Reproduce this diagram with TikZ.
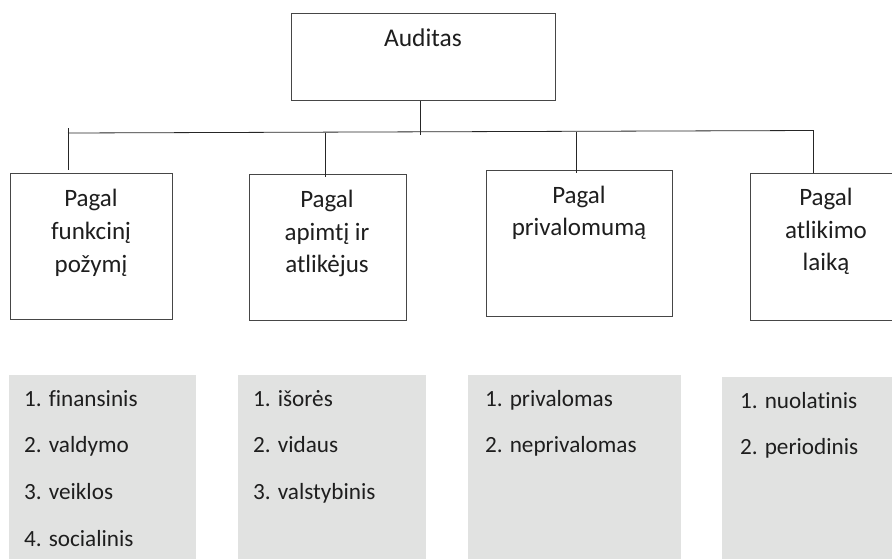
\documentclass[tikz,border=0pt]{standalone}
\usepackage{fontspec}
\setmainfont[Ligatures=NoCommon]{Carlito}
\newfontfamily\headfont[Ligatures=NoCommon]{Carlito}
\newfontfamily\itemfont[Ligatures=NoCommon]{Carlito}
\usetikzlibrary{calc}
\definecolor{listgray}{RGB}{225,226,225}
\definecolor{txt}{RGB}{30,30,30}
\definecolor{edge}{RGB}{70,70,70}
\tikzset{
  wbox/.style={draw=edge, line width=1.2pt, fill=white, anchor=north west, inner sep=0pt},
  gbox/.style={fill=listgray, draw=none, anchor=north west, inner sep=0pt},
  head/.style={anchor=base, inner sep=0pt, text=txt, font=\headfont\fontsize{25}{29}\selectfont},
  item/.style={anchor=base west, inner sep=0pt, text=txt, font=\itemfont\fontsize{23.2}{27}\selectfont},
  conn/.style={draw=black!85, line width=0.8pt}
}
\begin{document}
\begin{tikzpicture}[x=1pt,y=-1pt]
\useasboundingbox (0,0) rectangle (892,558);
\clip (0,0) rectangle (892,558);
% top box
\node[wbox, minimum width=264pt, minimum height=87.3pt] (aud) at (291,12.7) {};
\node[head, font=\headfont\fontsize{25.5}{30}\selectfont] (audt) at (423,46) {Auditas};
% category boxes
\node[wbox, minimum width=162pt, minimum height=146pt] (b1) at (10,172.7) {};
\node[wbox, minimum width=156.6pt, minimum height=146pt] (b2) at (249,174) {};
\node[wbox, minimum width=186pt, minimum height=146pt] (b3) at (486,170) {};
\node[wbox, minimum width=152pt, minimum height=147.3pt] (b4) at (750,172.7) {};
% category texts
\node[head] (b1a) at (91,206.7) {Pagal};
\node[head] (b1b) at (91,239.5) {funkcinį};
\node[head] (b1c) at (91,272) {požymį};
\node[head] (b2a) at (327,207) {Pagal};
\node[head] (b2b) at (327,240) {apimtį ir};
\node[head] (b2c) at (327,272.5) {atlikėjus};
\node[head] (b3a) at (579,203.5) {Pagal};
\node[head] (b3b) at (579,235.5) {privalomumą};
\node[head] (b4a) at (826,205) {Pagal};
\node[head] (b4b) at (826,238) {atlikimo};
\node[head] (b4c) at (826,270.5) {laiką};
% connectors
\coordinate (busL) at (68,133);
\coordinate (busR) at (813,130.5);
\coordinate (jA) at (420,134.5);
\coordinate (j1) at (68,128);
\coordinate (j2) at (325,132.5);
\coordinate (j3) at (576,132);
\coordinate (j4) at (813,130);
\draw[conn] (aud.south -| jA) -- (jA);
\draw[conn] (busL) -- (busR);
\draw[conn] (j1) -- ++(0,42);
\draw[conn] (j2) -- ($(j2 |- b2.north)+(0,3)$);
\draw[conn] (j3) -- ($(j3 |- b3.north)+(0,3)$);
\draw[conn] (j4) -- (j4 |- b4.north);
% list boxes
\node[gbox, minimum width=187.5pt, minimum height=190pt] (g1) at (8.5,375) {};
\node[gbox, minimum width=187.5pt, minimum height=190pt] (g2) at (238,375) {};
\node[gbox, minimum width=213pt, minimum height=190pt] (g3) at (468,375) {};
\node[gbox, minimum width=180pt, minimum height=190pt] (g4) at (722,377) {};
% list items
\node[item] (g1a) at (24,406) {1. finansinis};
\node[item] (g1b) at (24,452.7) {2. valdymo};
\node[item] (g1c) at (24,499.3) {3. veiklos};
\node[item] (g1d) at (24,546) {4. socialinis};
\node[item] (g2a) at (253,406) {1. išorės};
\node[item] (g2b) at (253,452.7) {2. vidaus};
\node[item] (g2c) at (253,499.3) {3. valstybinis};
\node[item] (g3a) at (485,406) {1. privalomas};
\node[item] (g3b) at (485,452.7) {2. neprivalomas};
\node[item] (g4a) at (740,408) {1. nuolatinis};
\node[item] (g4b) at (740,454) {2. periodinis};
\end{tikzpicture}
\end{document}
